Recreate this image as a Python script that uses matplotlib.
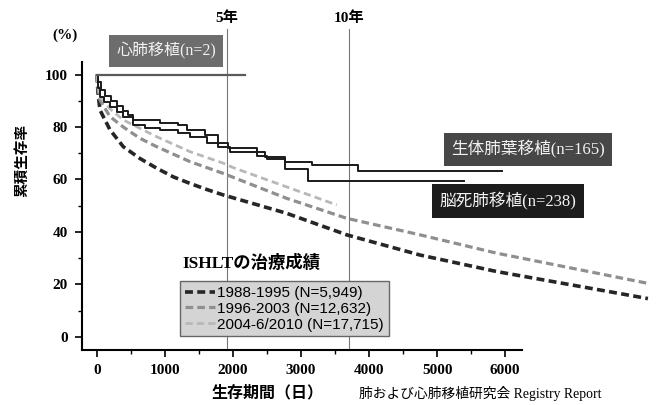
import matplotlib
matplotlib.use("Agg")
import matplotlib.pyplot as plt

plt.rcParams['font.family'] = ['Liberation Serif', 'Noto Sans CJK JP']

# ISHLT survival curves (days, %)
d_8895 = [0, 15, 44, 190, 387, 632, 878, 1122, 1368, 1613, 1858, 2790, 3672, 4750, 5878, 8100]
s_8895 = [100, 93, 86.5, 79, 72.5, 68, 64.3, 61, 58.5, 56.2, 54.1, 47.1, 38.9, 31.2, 24.9, 14.6]
d_9603 = [0, 15, 44, 190, 387, 632, 878, 1368, 1858, 2790, 3672, 4750, 5878, 8100]
s_9603 = [100, 95, 90.3, 84, 80, 75.7, 72.5, 66.8, 62.3, 52.8, 45.2, 38.9, 31.9, 20.4]
d_0410 = [0, 15, 44, 190, 387, 878, 1368, 1858, 2005, 3525]
s_0410 = [100, 96, 91.5, 87, 82.7, 76.3, 70.6, 66.2, 64.5, 50.3]

# Japanese registry (step curves)
d_living = [0, 20, 60, 120, 200, 290, 380, 460, 534, 926, 1196, 1319, 1588, 1784, 1950,
            2470, 2765, 3157, 3843, 5960]
s_living = [100, 97, 94, 92, 90, 88, 86, 84.5, 82.7, 81.6, 80.8, 78.9, 77, 72.5, 70.5,
            68.7, 66.8, 65.5, 63.4, 63.4]
d_brain = [0, 15, 44, 100, 190, 290, 387, 534, 706, 926, 1196, 1368, 1613, 1930,
           2348, 2495, 2765, 3108, 5400]
s_brain = [100, 95, 91.5, 89.5, 87.7, 85.8, 83.9, 80.8, 79.5, 78.9, 77.6, 76.3, 73.8, 71.9,
           69, 67.7, 63.9, 59.5, 59.5]
d_heart = [0, 2176]
s_heart = [100, 100]

year_lines = [1910, 3706]
year_labels = ['5年', '10年']

legend_labels = ['1988-1995 (N=5,949)', '1996-2003 (N=12,632)', '2004-6/2010 (N=17,715)']

fig = plt.figure(figsize=(6.59, 4.05), dpi=100)
ax = fig.add_axes([82/659, 55/405, 568/659, 330/405])
ax.set_xlim(-220, 8130)
ax.set_ylim(-5, 120.8)

# year markers
for x, lab in zip(year_lines, year_labels):
    ax.plot([x, x], [-5, 117.5], color='#777777', lw=0.8, clip_on=False, zorder=1)
    ax.text(x, 121.5, lab, ha='center', va='center', fontsize=11, fontweight='bold')

l1, = ax.plot(d_8895, s_8895, color='#262626', lw=2.6, dashes=(2.2, 1.2), clip_on=False)
l2, = ax.plot(d_9603, s_9603, color='#8f8f8f', lw=2.3, dashes=(2.4, 1.3), clip_on=False)
l3, = ax.plot(d_0410, s_0410, color='#b8b8b8', lw=2.0, dashes=(2.6, 1.5), clip_on=False)

ax.step(d_living, s_living, where='post', color='#1a1a1a', lw=1.4)
ax.step(d_brain, s_brain, where='post', color='#1a1a1a', lw=1.4)
ax.plot(d_heart, s_heart, color='#5a5a5a', lw=1.6)

# curve labels
box = dict(boxstyle='square,pad=0.45', ec='none')
ax.text(1015, 109, '心肺移植(n=2)', ha='center', va='center', fontsize=11.5, color='#f2f2f2',
        bbox=dict(box, fc='#6d6d6d'))
ax.text(6338, 71.6, '生体肺葉移植(n=165)', ha='center', va='center', fontsize=12, color='#f2f2f2',
        bbox=dict(box, fc='#474747'))
ax.text(6044, 51.8, '脳死肺移植(n=238)', ha='center', va='center', fontsize=12, color='#f2f2f2',
        bbox=dict(box, fc='#1c1c1c'))

# legend
ax.text(0.176, 0.262, 'ISHLTの治療成績', transform=ax.transAxes, fontsize=12.5,
        fontweight='bold', ha='left', va='center')
leg = ax.legend([l1, l2, l3], legend_labels, loc='lower left', bbox_to_anchor=(0.1725, 0.042),
                borderaxespad=0, frameon=True, fancybox=False, framealpha=1,
                facecolor='#d4d4d4', edgecolor='#666666', handlelength=2.0,
                handletextpad=0.15, labelspacing=0.12, borderpad=0.3,
                prop={'family': 'Liberation Sans', 'size': 11})
leg.get_frame().set_linewidth(1.0)

# axes styling
for s in ['top', 'right']:
    ax.spines[s].set_visible(False)
ax.spines['left'].set_bounds(-5, 104.8)
ax.spines['bottom'].set_bounds(-220, 6250)
for s in ['left', 'bottom']:
    ax.spines[s].set_linewidth(1.5)
ax.set_xticks([0, 1000, 2000, 3000, 4000, 5000, 6000])
ax.set_yticks([0, 20, 40, 60, 80, 100])
ax.set_xticks([t for t in range(500, 6500, 1000)], minor=True)
ax.set_yticks([10, 30, 50, 70, 90], minor=True)
ax.tick_params(which='major', direction='out', length=5, width=1.2, labelsize=11, pad=5)
ax.tick_params(which='minor', direction='out', length=3, width=1.0)
for t in ax.get_xticklabels() + ax.get_yticklabels():
    t.set_fontweight('bold')

fig.text(65/659, 1 - 35/405, '(%)', ha='center', va='center', fontsize=11, fontweight='bold')
fig.text(22/659, 1 - 160/405, '累積生存率', ha='center', va='center', rotation=90,
         fontsize=10.5, fontweight='bold')
fig.text(268/659, 1 - 393/405, '生存期間（日）', ha='center', va='center', fontsize=11.5,
         fontweight='bold')
fig.text(359/659, 1 - 393/405, '肺および心肺移植研究会 Registry Report', ha='left', va='center',
         fontsize=9.9)

fig.savefig('out.png', dpi=100)
